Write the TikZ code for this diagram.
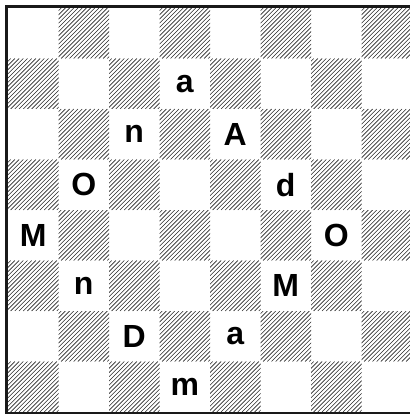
\documentclass[tikz,border=0pt]{standalone}
\usepackage{fontspec}
\setmainfont{Liberation Sans}

\begin{document}
\begin{tikzpicture}[
    x=1pt, y=-1pt,
    hatch/.style={draw=black!85, line width=0.6pt},
    letter/.style={font=\bfseries\fontsize{32}{32}\selectfont, inner sep=0pt, text=black},
    frame/.style={draw=black!90, line width=3pt}
]
\useasboundingbox (0,0) rectangle (409,414);
\foreach \r in {1,...,8}
  \foreach \c in {1,3,5,7} {
    \pgfmathtruncatemacro{\col}{\c+mod(\r,2)}
    \begin{scope}
      \clip ({8+(\col-1)*50.5},{8+(\r-1)*50.5}) rectangle ++(50.5,50.5);
      \foreach \k in {-52,-47.8,...,52}
        \draw[hatch] ({8+(\col-1)*50.5+\k},{8+\r*50.5}) -- ++(50.5,-50.5);
    \end{scope}
  }
\foreach \r/\c/\t in {2/4/a, 3/3/n, 3/5/A, 4/2/O, 4/6/d, 5/1/M, 5/7/O, 6/2/n, 6/6/M, 7/3/D, 7/5/a, 8/4/m}
  \node[letter] (l\r\c) at ({8+(\c-0.5)*50.5},{8+(\r-0.5)*50.5}) {\t};
\draw[frame] (6.5,6.5) rectangle (413.5,413.5);
\end{tikzpicture}
\end{document}
